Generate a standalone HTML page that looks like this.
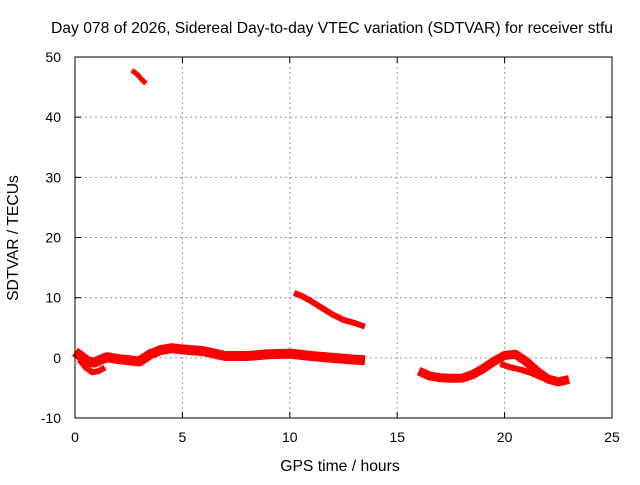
<!DOCTYPE html>
<html><head><meta charset="utf-8"><style>
body{margin:0;background:#fff}
svg text{font-family:"Liberation Sans",sans-serif;font-size:14px;fill:#000}
svg text.big{font-size:15.7px}
</style></head><body>
<svg id="c" width="640" height="480">
<text class="big" x="332" y="33" text-anchor="middle">Day 078 of 2026, Sidereal Day-to-day VTEC variation (SDTVAR) for receiver stfu</text>
<text class="big" x="340" y="471" text-anchor="middle">GPS time / hours</text>
<text class="big" transform="translate(18,238) rotate(-90)" text-anchor="middle">SDTVAR / TECUs</text>
<g id="grid"></g><g id="ticks"></g><g id="series"></g>
<rect x="75" y="57" width="537" height="361" fill="none" stroke="#000" stroke-width="1"/>
</svg>
<script>
const xTicks=[0,5,10,15,20,25];
const yTicks=[-10,0,10,20,30,40,50];
const trackAHours=[0,0.3,0.6,0.9,1.2,1.5,2,2.5,3,3.5,4,4.5,5,6,7,8,9,10,11,12,13,13.5];
const trackAValues=[1,0.2,-0.6,-0.8,-0.3,0.1,-0.2,-0.4,-0.6,0.6,1.3,1.6,1.4,1.1,0.3,0.3,0.6,0.7,0.3,0,-0.3,-0.4];
const trackA2Hours=[0.2,0.5,0.8,1.1,1.4];
const trackA2Values=[-0.3,-1.6,-2.4,-2.2,-1.6];
const trackBHours=[2.65,2.9,3.1,3.3];
const trackBValues=[47.8,47.1,46.3,45.6];
const trackCHours=[10.2,10.6,11,11.5,12,12.5,13,13.5];
const trackCValues=[10.8,10.2,9.4,8.3,7.2,6.3,5.8,5.2];
const trackDHours=[16,16.5,17,17.5,18,18.5,19,19.5,20,20.5,21,21.5,22,22.5,23];
const trackDValues=[-2.2,-3,-3.3,-3.4,-3.4,-2.8,-1.8,-0.6,0.4,0.6,-0.6,-2.2,-3.5,-4,-3.6];
const trackD2Hours=[19.8,20.3,20.8,21.3,21.8];
const trackD2Values=[-1,-1.6,-2,-2.6,-3.4];
const X=h=>75+h*537/25, Y=v=>418-(v+10)*361/60;
const NS="http://www.w3.org/2000/svg";
const g=document.getElementById('grid'),t=document.getElementById('ticks'),s=document.getElementById('series');
function mk(tag,at,p){const e=document.createElementNS(NS,tag);for(const k in at)e.setAttribute(k,at[k]);p.appendChild(e);return e;}
xTicks.forEach(h=>{
 if(h>0&&h<25){const l=mk('line',{x1:X(h),x2:X(h),y1:57,y2:418,stroke:'#999','stroke-dasharray':'2,3'},g);
 
 }
 mk('line',{x1:X(h),x2:X(h),y1:418,y2:412,stroke:'#000'},t);mk('line',{x1:X(h),x2:X(h),y1:57,y2:63,stroke:'#000'},t);
 const tx=mk('text',{x:X(h),y:442,'text-anchor':'middle'},t);tx.textContent=h;
 
 
});
yTicks.forEach(v=>{
 if(v>-10&&v<50){const l=mk('line',{x1:75,x2:612,y1:Y(v),y2:Y(v),stroke:'#999','stroke-dasharray':'2,3'},g);
 
 }
 mk('line',{x1:75,x2:81,y1:Y(v),y2:Y(v),stroke:'#000'},t);mk('line',{x1:612,x2:606,y1:Y(v),y2:Y(v),stroke:'#000'},t);
 const tx=mk('text',{x:61,y:Y(v)+5,'text-anchor':'end'},t);tx.textContent=v;
 
 
});
function track(hs,vs,w,name){
 const p=mk('polyline',{points:hs.map((h,i)=>X(h)+','+Y(vs[i])).join(' '),fill:'none',stroke:'#f00','stroke-width':w,'stroke-linejoin':'round','stroke-linecap':'butt'},s);
 
 
}
track(trackAHours,trackAValues,10,'series-track-a');
track(trackA2Hours,trackA2Values,6,'series-track-a-lower');
track(trackBHours,trackBValues,5,'series-track-b');
track(trackCHours,trackCValues,6,'series-track-c');
track(trackDHours,trackDValues,9,'series-track-d');
track(trackD2Hours,trackD2Values,6,'series-track-d-lower');
</script>
</body></html>
